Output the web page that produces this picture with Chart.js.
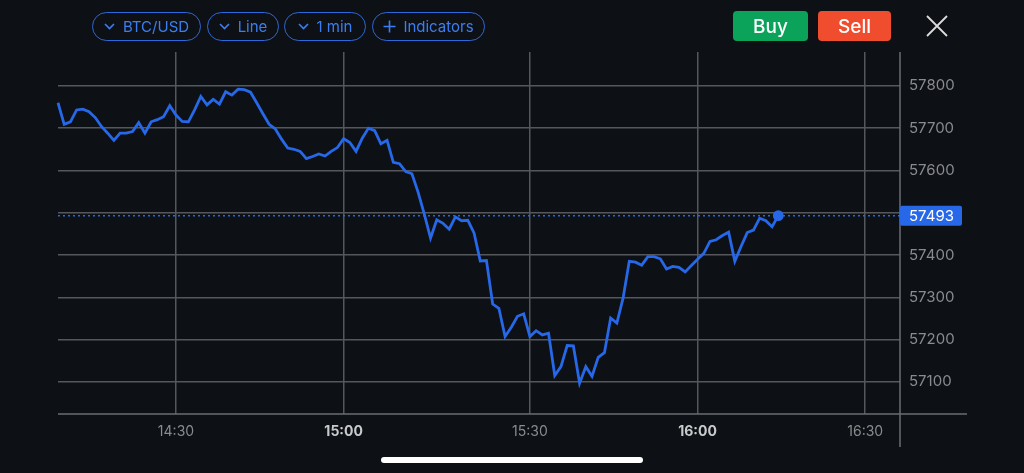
<!DOCTYPE html>
<html>
<head>
<meta charset="utf-8">
<script src="https://cdn.jsdelivr.net/npm/chart.js@4"></script>
<style>
  html, body { margin: 0; padding: 0; background: #0d1014; }
  #wrap { position: relative; width: 1024px; height: 473px; overflow: hidden; font-family: Inter, "Noto Sans", sans-serif; }
  #wrap canvas { position: absolute; left: 0; top: 0; }
  .pill { position: absolute; top: 12px; height: 29px; box-sizing: border-box; border: 1.5px solid #2d68dc; border-radius: 15px;
          color: #3c7ef2; font-size: 15px; display: flex; align-items: center; justify-content: center; gap: 8px; }
  .pill svg { display: block; }
  .btn { position: absolute; top: 11px; height: 30px; border-radius: 4px; color: #fff; font-size: 19px; font-weight: 500;
         display: flex; align-items: center; justify-content: center; }
  #home { position: absolute; left: 381px; top: 457px; width: 262px; height: 6px; border-radius: 3px; background: #fff; }
</style>
</head>
<body>
<div id="wrap">
  <canvas id="myChart" width="1024" height="473"></canvas>
  <div class="pill" style="left:92px;width:109px">
    <svg width="11" height="7" viewBox="0 0 11 7"><path d="M1 1 L5.5 5.5 L10 1" stroke="#3c7ef2" stroke-width="1.6" fill="none"/></svg>BTC/USD</div>
  <div class="pill" style="left:207px;width:72px">
    <svg width="11" height="7" viewBox="0 0 11 7"><path d="M1 1 L5.5 5.5 L10 1" stroke="#3c7ef2" stroke-width="1.6" fill="none"/></svg>Line</div>
  <div class="pill" style="left:284px;width:82px">
    <svg width="11" height="7" viewBox="0 0 11 7"><path d="M1 1 L5.5 5.5 L10 1" stroke="#3c7ef2" stroke-width="1.6" fill="none"/></svg>1 min</div>
  <div class="pill" style="left:372px;width:113px;gap:7px">
    <svg width="13" height="13" viewBox="0 0 13 13"><path d="M6.5 0.5 V12.5 M0.5 6.5 H12.5" stroke="#3c7ef2" stroke-width="1.6" fill="none"/></svg>Indicators</div>
  <div class="btn" style="left:733px;width:75px;background:#0ba35a">Buy</div>
  <div class="btn" style="left:818px;width:73px;background:#f04c2e">Sell</div>
  <svg style="position:absolute;left:926px;top:15px" width="22" height="22" viewBox="0 0 22 22">
    <path d="M1 1 L21 21 M21 1 L1 21" stroke="#dcdcdc" stroke-width="1.8" fill="none"/></svg>
  <div id="home"></div>
</div>
<script>
  // BTC/USD closes, one per point on the chart
  const prices = [
    57760, 57709, 57715, 57743, 57745, 57739, 57725, 57704, 57688, 57671,
    57688, 57688, 57692, 57713, 57688, 57715, 57720, 57727, 57753, 57731,
    57716, 57715, 57743, 57775, 57755, 57768, 57757, 57786, 57778, 57792,
    57791, 57785, 57760, 57734, 57709, 57698, 57674, 57653, 57650, 57645,
    57628, 57633, 57639, 57634, 57645, 57654, 57675, 57666, 57645, 57676,
    57700, 57694, 57663, 57671, 57619, 57616, 57597, 57592, 57548, 57496,
    57440, 57483, 57475, 57461, 57490, 57481, 57482, 57452, 57386, 57387,
    57284, 57274, 57207, 57229, 57255, 57261, 57207, 57221, 57211, 57215,
    57115, 57136, 57186, 57185, 57097, 57136, 57113, 57158, 57169, 57251,
    57239, 57298, 57385, 57383, 57376, 57396, 57396, 57391, 57367, 57373,
    57371, 57360, 57375, 57390, 57404, 57432, 57436, 57446, 57454, 57385,
    57420, 57453, 57459, 57487, 57481, 57467, 57493
  ];

  const timeTickIndex = [19, 46, 76, 103, 130];
  const timeTickLabels = ['14:30', '15:00', '15:30', '16:00', '16:30'];
  const priceTicks = [57100, 57200, 57300, 57400, 57500, 57600, 57700, 57800];
  const priceMin = 57024;
  const priceMax = 57880;
  const xMax = 135.6;

  const lastPrice = prices[prices.length - 1];
  const blue = '#2768e8';
  const gridColor = '#55575b';

  const data = {
    datasets: [{
      label: 'BTC/USD',
      data: prices.map((p, i) => ({ x: i, y: p })),
      borderColor: blue,
      backgroundColor: blue,
      borderWidth: 2.8,
      tension: 0,
      pointRadius: (ctx) => ctx.dataIndex === prices.length - 1 ? 4 : 0,
      pointHoverRadius: 0,
      clip: false
    }]
  };

  // extra lines, the dotted price line and the price tag
  const decor = {
    id: 'decor',
    beforeDatasetsDraw(chart) {
      const { ctx, chartArea } = chart;
      const y = chart.scales.y.getPixelForValue(lastPrice);
      ctx.save();
      ctx.strokeStyle = blue;
      ctx.lineWidth = 1.5;
      ctx.setLineDash([2, 3]);
      ctx.beginPath();
      ctx.moveTo(chartArea.left, y);
      ctx.lineTo(chartArea.right, y);
      ctx.stroke();
      ctx.restore();
    },
    afterDraw(chart) {
      const { ctx, chartArea } = chart;
      ctx.save();
      ctx.strokeStyle = '#6a6c70';
      ctx.lineWidth = 1.5;
      ctx.beginPath();
      ctx.moveTo(chartArea.left, chartArea.bottom);
      ctx.lineTo(967, chartArea.bottom);
      ctx.moveTo(chartArea.right, chartArea.top);
      ctx.lineTo(chartArea.right, 447);
      ctx.stroke();

      const y = chart.scales.y.getPixelForValue(lastPrice);
      ctx.fillStyle = blue;
      ctx.beginPath();
      ctx.roundRect(chartArea.right, y - 10, 62, 20, 2);
      ctx.fill();
      ctx.fillStyle = '#ffffff';
      ctx.font = '15px Inter';
      ctx.textBaseline = 'middle';
      ctx.textAlign = 'left';
      ctx.fillText(String(lastPrice), chartArea.right + 9, y + 1);
      ctx.restore();
    }
  };

  const config = {
    type: 'line',
    data: data,
    options: {
      responsive: false,
      animation: false,
      events: [],
      layout: { padding: { left: 58, top: 52, right: 0, bottom: 0 } },
      plugins: { legend: { display: false }, tooltip: { enabled: false } },
      scales: {
        x: {
          type: 'linear',
          min: 0,
          max: xMax,
          afterBuildTicks: (scale) => { scale.ticks = timeTickIndex.map(v => ({ value: v })); },
          afterFit: (scale) => { scale.height = 59; },
          grid: { color: gridColor, lineWidth: 1.5, drawTicks: false },
          border: { display: false },
          ticks: {
            autoSkip: false,
            maxRotation: 0,
            padding: 9,
            callback: (v) => timeTickLabels[timeTickIndex.indexOf(v)],
            font: (ctx) => ({ family: 'Inter', size: 14, weight: ctx.tick && ctx.tick.label.endsWith(':00') ? 'bold' : 'normal' }),
            color: (ctx) => ctx.tick && ctx.tick.label.endsWith(':00') ? '#c9cacc' : '#8a8b8e'
          }
        },
        y: {
          position: 'right',
          min: priceMin,
          max: priceMax,
          afterBuildTicks: (scale) => { scale.ticks = priceTicks.map(v => ({ value: v })); },
          afterFit: (scale) => { scale.width = 124; },
          grid: { color: gridColor, lineWidth: 1.5, drawTicks: false },
          border: { display: false },
          ticks: {
            padding: 9,
            callback: (v) => String(v),
            font: { family: 'Inter', size: 15 },
            color: '#8a8b8e'
          }
        }
      }
    },
    plugins: [decor]
  };

  const myChart = new Chart(
    document.getElementById('myChart'),
    config
  );
</script>
</body>
</html>
